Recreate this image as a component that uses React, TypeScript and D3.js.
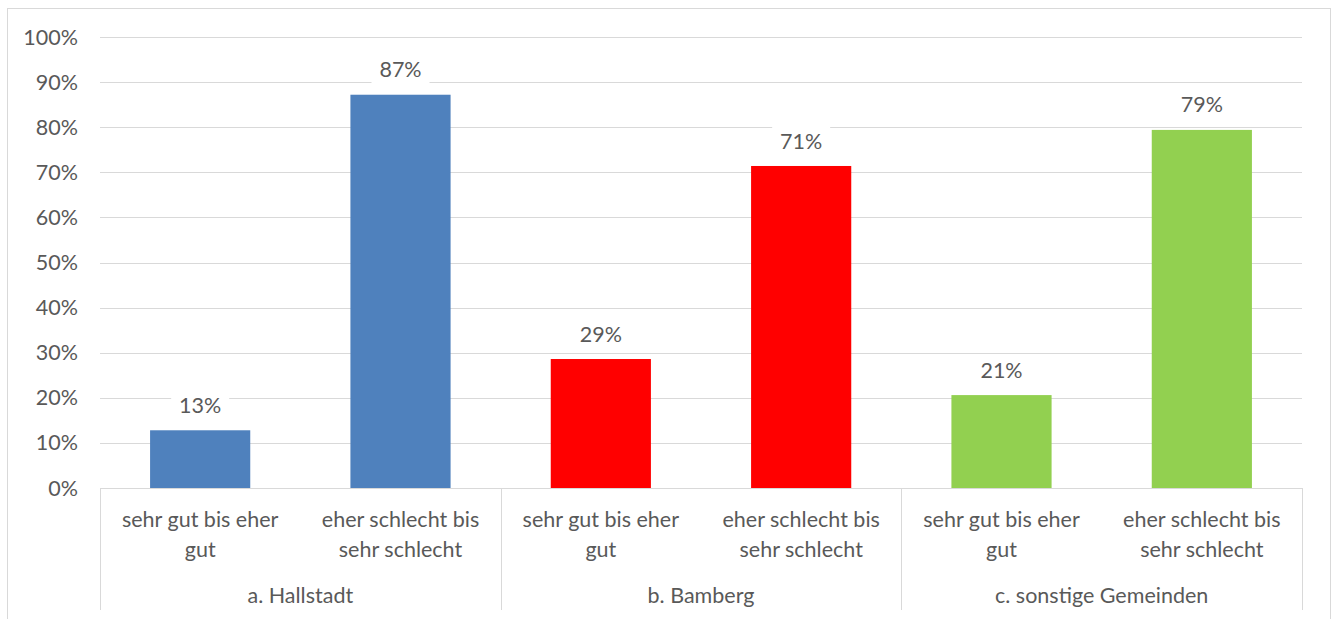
import React from "react";
import * as d3 from "d3";

const groups = ["a. Hallstadt", "b. Bamberg", "c. sonstige Gemeinden"];
const categories = ["sehr gut bis eher gut", "eher schlecht bis sehr schlecht"];
const categoryLines = [["sehr gut bis eher", "gut"], ["eher schlecht bis", "sehr schlecht"]];
const values = [
  [0.128, 0.872],
  [0.286, 0.714],
  [0.206, 0.794],
];
const groupColors = ["#4F81BD", "#FF0000", "#92D050"];
const yTicks = [0, 0.1, 0.2, 0.3, 0.4, 0.5, 0.6, 0.7, 0.8, 0.9, 1];

const W = 1336;
const H = 619;
const left = 100;
const right = 1302;
const top = 37;
const bottom = 488;
const font = "Lato, 'Open Sans', sans-serif";
const fs = 21.5;
const textColor = "#595959";

export default function App() {
  const y = d3.scaleLinear().domain([0, 1]).range([bottom, top]);
  const items = groups.flatMap((g, gi) =>
    categories.map((c, ci) => ({ key: `${gi}-${ci}`, gi, ci, v: values[gi][ci] }))
  );
  const x = d3.scaleBand<string>().domain(items.map((d) => d.key)).range([left, right]).paddingInner(0.5).paddingOuter(0.25);
  const step = (right - left) / items.length;
  const fmt = d3.format(".0%");

  return (
    <svg width={W} height={H} style={{ position: "absolute", left: 0, top: 0 }}>
      <rect x={7.5} y={8.5} width={1323} height={620} fill="#fff" stroke="#d9d9d9" />
      {yTicks.map((t) => (
        <g key={t}>
          <line x1={left} x2={right} y1={Math.round(y(t)) + 0.5} y2={Math.round(y(t)) + 0.5} stroke="#d9d9d9" strokeWidth={1} />
          <text x={78} y={y(t)} dy="0.35em" textAnchor="end" fontFamily={font} fontSize={fs} fill={textColor}>
            {fmt(t)}
          </text>
        </g>
      ))}
      {items.map((d) => {
        const bx = x(d.key)!;
        const bw = x.bandwidth();
        const by = y(d.v);
        const label = fmt(d.v);
        const cx = bx + bw / 2;
        const lw = 58;
        return (
          <g key={d.key}>
            <rect x={bx} y={by} width={bw} height={bottom - by} fill={groupColors[d.gi]} />
            <rect x={cx - lw / 2} y={by - 41} width={lw} height={32} fill="#fff" />
            <text x={cx} y={by - 25} dy="0.35em" textAnchor="middle" fontFamily={font} fontSize={fs} fill={textColor}>
              {label}
            </text>
            {categoryLines[d.ci].map((ln, li) => (
              <text key={li} x={cx} y={519 + li * 30} dy="0.35em" textAnchor="middle" fontFamily={font} fontSize={fs} fill={textColor}>
                {ln}
              </text>
            ))}
          </g>
        );
      })}
      <line x1={left} x2={right} y1={bottom + 0.5} y2={bottom + 0.5} stroke="#d9d9d9" />
      {d3.range(groups.length + 1).map((i) => {
        const gx = Math.round(left + i * step * 2) + 0.5;
        return <line key={i} x1={gx} x2={gx} y1={bottom} y2={610} stroke="#d9d9d9" />;
      })}
      {groups.map((g, i) => (
        <text key={g} x={left + (i + 0.5) * step * 2} y={595} dy="0.35em" textAnchor="middle" fontFamily={font} fontSize={fs} fill={textColor}>
          {g}
        </text>
      ))}
    </svg>
  );
}
